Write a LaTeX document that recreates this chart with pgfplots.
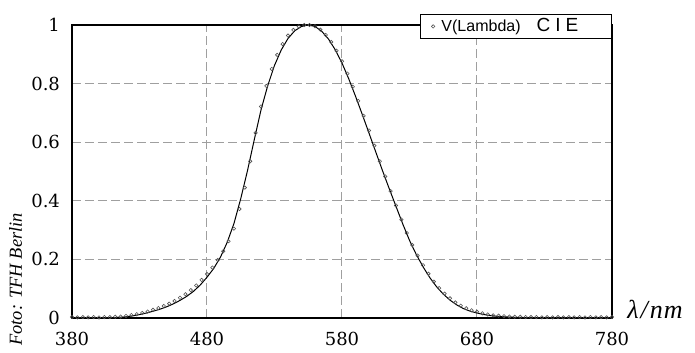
\documentclass[border=0pt]{standalone}
\usepackage{pgfplots}
\pgfplotsset{compat=1.18}
\usepackage{fontspec}
\setmainfont{Liberation Serif}
\newfontfamily\legsans{Liberation Sans}
\newfontfamily\tickfont{DejaVu Serif}
\newfontfamily\labfont{Liberation Serif}
\begin{document}
\begin{tikzpicture}
\begin{axis}[
  at={(0,0)}, anchor=south west,
  scale only axis, width=270pt, height=146.5pt,
  xmin=380, xmax=780, ymin=0, ymax=1,
  xtick={380,480,580,680,780},
  ytick={0,0.2,0.4,0.6,0.8,1},
  yticklabels={0,0.2,0.4,0.6,0.8,1},
  xticklabels={380,480,580,680,780},
  major tick length=0pt,
  tick label style={font=\tickfont\fontsize{9}{11}\selectfont},
  yticklabel style={xshift=-2.5pt},
  xticklabel style={yshift=-3.5pt},
  /pgf/number format/assume math mode=true,
  axis line style={black, line width=0.7pt},
  grid=major,
  major grid style={gray!75, line width=0.5pt, dash pattern=on 4.5pt off 2pt},
  clip=false,
  legend style={at={(1,0.952)}, anchor=south east, draw=black, line width=0.5pt,
    inner ysep=0pt, inner xsep=3pt, font=\legsans\fontsize{8}{9}\selectfont},
  legend cell align=left,
]
% CIE V(lambda) curve
\addplot[black, line width=0.5pt, forget plot] coordinates {
(380,0.000039)(385,0.000064)(390,0.00012)(395,0.000217)(400,0.000396)(405,0.00064)
(410,0.00121)(415,0.00218)(420,0.004)(425,0.0073)(430,0.0116)(435,0.01684)
(440,0.023)(445,0.0298)(450,0.038)(455,0.048)(460,0.06)(465,0.0739)
(470,0.09098)(475,0.1126)(480,0.13902)(485,0.1693)(490,0.20802)(495,0.2586)
(500,0.323)(505,0.4073)(510,0.503)(515,0.6082)(520,0.71)(525,0.7932)
(530,0.862)(535,0.91485)(540,0.954)(545,0.9803)(550,0.99495)(555,1.0)
(560,0.995)(565,0.9786)(570,0.952)(575,0.9154)(580,0.87)(585,0.8163)
(590,0.757)(595,0.6949)(600,0.631)(605,0.5668)(610,0.503)(615,0.4412)
(620,0.381)(625,0.321)(630,0.265)(635,0.217)(640,0.175)(645,0.1382)
(650,0.107)(655,0.0816)(660,0.061)(665,0.04458)(670,0.032)(675,0.0232)
(680,0.017)(685,0.01192)(690,0.00821)(695,0.005723)(700,0.004102)(705,0.002929)
(710,0.002091)(715,0.001484)(720,0.001047)(725,0.00074)(730,0.00052)(735,0.000361)
(740,0.000249)(745,0.000172)(750,0.00012)(755,0.000085)(760,0.00006)(765,0.000042)
(770,0.00003)(775,0.000021)(780,0.000015)
};
% measured points
\addplot[only marks, mark=o, mark size=0.85pt, color=gray!65!black, line width=0.3pt,
  legend image code/.code={\path (0pt,0pt) (5pt,0pt); \draw[only marks] plot coordinates {(3pt,0pt)};}]
coordinates {
(380,0.003)(384,0.002)(388,0.003)(392,0.002)(396,0.003)(400,0.002)(404,0.003)
(408,0.003)(412,0.004)(416,0.005)(420,0.007)(424,0.010)(428,0.013)(432,0.017)
(436,0.022)(440,0.028)(444,0.034)(448,0.041)(452,0.049)(456,0.058)(460,0.069)
(464,0.081)(468,0.095)(472,0.111)(476,0.130)(480,0.150)(484,0.172)(488,0.198)
(492,0.228)(496,0.262)(500,0.305)(504,0.372)(508,0.445)(512,0.535)(516,0.632)
(520,0.722)(524,0.792)(528,0.850)(532,0.898)(536,0.935)(540,0.964)(544,0.983)
(548,0.995)(552,1.0)(556,1.0)(560,0.996)(564,0.984)(568,0.966)(572,0.942)
(576,0.912)(580,0.876)(584,0.834)(588,0.789)(592,0.741)(596,0.690)(600,0.640)
(604,0.588)(608,0.535)(612,0.483)(616,0.433)(620,0.384)(624,0.336)(628,0.290)
(632,0.249)(636,0.213)(640,0.180)(644,0.151)(648,0.124)(652,0.102)(656,0.083)
(660,0.067)(664,0.053)(668,0.042)(672,0.033)(676,0.026)(680,0.021)(684,0.016)
(688,0.012)(692,0.009)(696,0.008)(700,0.006)(704,0.005)(708,0.004)(712,0.004)
(716,0.003)(720,0.003)(724,0.003)(728,0.002)(732,0.003)(736,0.002)(740,0.003)
(744,0.002)(748,0.003)(752,0.002)(756,0.003)(760,0.002)(764,0.003)(768,0.002)
(772,0.003)(776,0.002)(780,0.003)
};
\addlegendentry{\makebox[80pt][l]{V(Lambda)\hspace{8pt}{\fontsize{9.5}{9}\selectfont C\hspace{2.5pt}I\hspace{2.5pt}E}}}
\node[anchor=west, inner sep=0pt, font=\labfont\itshape\fontsize{13}{14}\selectfont] at ([xshift=7.5pt,yshift=4.5pt]rel axis cs:1,0) {λ\hspace{1pt}/\hspace{1pt}n\hspace{0.5pt}m};
\node[rotate=90, anchor=base west, inner sep=0pt, font=\labfont\itshape\fontsize{9.2}{10}\selectfont] at ([xshift=-25pt,yshift=-14pt]rel axis cs:0,0) {Foto: TFH Berlin};
\end{axis}
\useasboundingbox (-36pt,-14pt) rectangle ++(347.5pt,173pt);
\end{tikzpicture}
\end{document}
